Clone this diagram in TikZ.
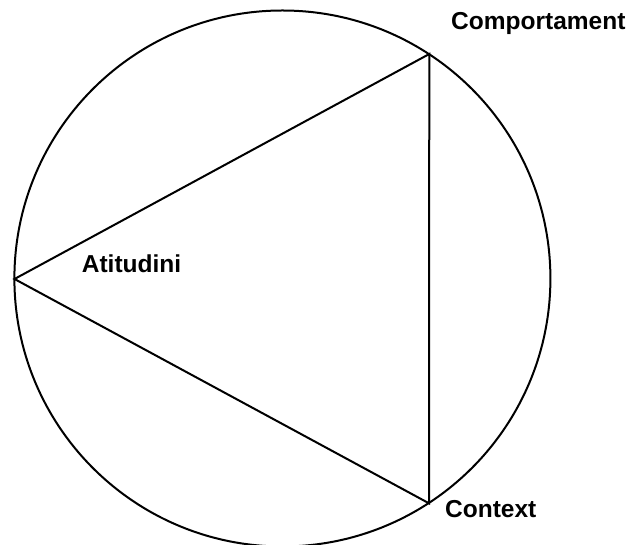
\documentclass[tikz,border=0pt]{standalone}
\usepackage{fontspec}
\setmainfont{Liberation Sans}
\begin{document}
\begin{tikzpicture}[x=1bp,y=-1bp,
  edge/.style={line width=2bp, line join=miter},
  lbl/.style={font=\fontsize{24.5bp}{29bp}\selectfont\bfseries, inner sep=0pt, anchor=base west}]
\useasboundingbox (0,0) rectangle (631,545);
\coordinate (ctr) at (282.4,278.5);
\draw[edge] (ctr) circle[radius=268bp];
\coordinate (L) at (14.5,279);
\coordinate (T) at (429.3,54);
\coordinate (B) at (429,503.3);
\draw[edge] (L) -- (T) -- (B) -- cycle;
\node[lbl] (comp) at (451,29.5) {Comportament};
\node[lbl] (ctx) at (445,517.3) {Context};
\node[lbl] (att) at (81.7,272.7) {Atitudini};
\end{tikzpicture}
\end{document}
